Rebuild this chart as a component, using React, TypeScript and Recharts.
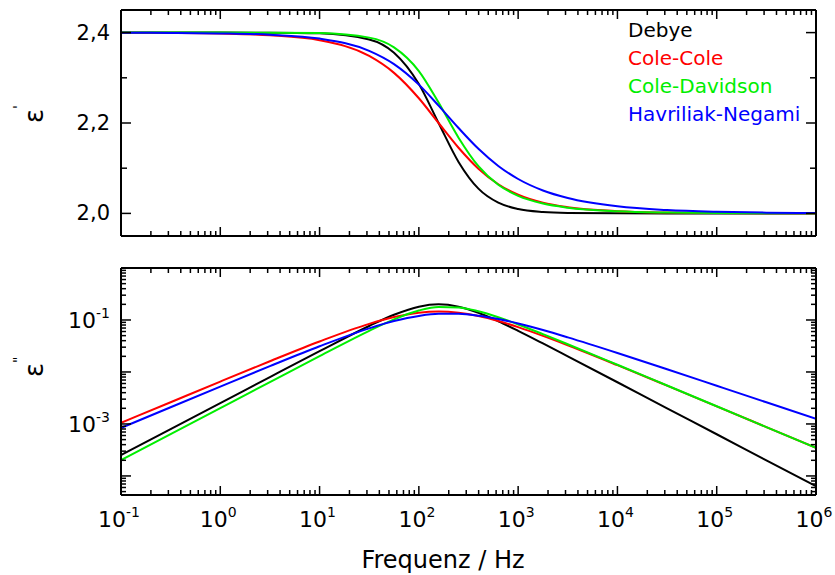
import React from "react";
import { LineChart, Line, XAxis, YAxis } from "recharts";

// frequency grid (Hz)
const FREQ = [0.1, 0.316, 1, 3.16, 10, 31.6, 56.2, 100, 158, 251, 398, 631, 1000, 1778, 3162, 10000, 31623, 100000, 316228, 1000000];

const DEBYE_E1 = [2.4, 2.4, 2.4, 2.3998, 2.3984, 2.3847, 2.3553, 2.2861, 2.2, 2.1139, 2.0547, 2.0237, 2.0098, 2.0032, 2.001, 2.0001, 2.0, 2.0, 2.0, 2.0];
const DEBYE_E2 = [2.52e-4, 7.98e-4, 2.52e-3, 7.98e-3, 0.0251, 0.0767, 0.1261, 0.1805, 0.2, 0.1805, 0.1375, 0.0945, 0.0619, 0.0354, 0.02, 0.00634, 0.002, 6.34e-4, 2.0e-4, 6.34e-5];

const CC_E1 = [2.3997, 2.3991, 2.3978, 2.394, 2.383, 2.3483, 2.3109, 2.2547, 2.2, 2.1453, 2.0989, 2.0645, 2.0413, 2.0236, 2.0137, 2.0049, 2.0018, 2.0007, 2.0003, 2.0001];
const CC_E2 = [1.05e-3, 2.62e-3, 6.54e-3, 0.0161, 0.0386, 0.0841, 0.1137, 0.1381, 0.1453, 0.1381, 0.1194, 0.0959, 0.073, 0.0495, 0.0326, 0.0135, 0.00545, 0.00218, 8.7e-4, 3.47e-4];

const CD_E1 = [2.4, 2.4, 2.4, 2.3999, 2.3989, 2.3889, 2.3674, 2.3149, 2.2453, 2.1675, 2.1044, 2.0633, 2.0387, 2.0217, 2.0126, 2.0047, 2.0018, 2.0007, 2.0003, 2.0001];
const CD_E2 = [2.02e-4, 6.38e-4, 2.02e-3, 6.38e-3, 0.0201, 0.0618, 0.1027, 0.1523, 0.1782, 0.1747, 0.1472, 0.1127, 0.0821, 0.0534, 0.0342, 0.01375, 0.00549, 0.00219, 8.72e-4, 3.47e-4];

const HN_E1 = [2.3997, 2.3993, 2.3982, 2.3953, 2.3867, 2.3597, 2.3303, 2.2849, 2.2385, 2.1889, 2.1429, 2.105, 2.0761, 2.0507, 2.034, 2.0156, 2.0073, 2.0035, 2.0017, 2.0008];
const HN_E2 = [8.37e-4, 2.1e-3, 5.24e-3, 0.01295, 0.0312, 0.069, 0.0953, 0.1196, 0.1311, 0.1314, 0.1212, 0.1044, 0.0857, 0.064, 0.0463, 0.0232, 0.01128, 0.00543, 0.00261, 0.00125];

const SERIES = [
  { key: "debye", name: "Debye", color: "#000000", e1: DEBYE_E1, e2: DEBYE_E2 },
  { key: "cc", name: "Cole-Cole", color: "#ff0000", e1: CC_E1, e2: CC_E2 },
  { key: "cd", name: "Cole-Davidson", color: "#00ee00", e1: CD_E1, e2: CD_E2 },
  { key: "hn", name: "Havriliak-Negami", color: "#0000ff", e1: HN_E1, e2: HN_E2 },
];

// tick labels
const X_DECADES = [0.1, 1, 10, 100, 1000, 10000, 100000, 1000000];
const Y1_TICKS = [2.0, 2.1, 2.2, 2.3, 2.4];
const Y1_LABELS = ["2,0", "", "2,2", "", "2,4"];
const Y2_DECADES = [1e-5, 1e-4, 1e-3, 1e-2, 1e-1, 1];
const Y2_LABELED = [1e-3, 1e-1];

const X_DOMAIN = [0.1, 1000000];
const Y1_DOMAIN = [1.95, 2.45];
const Y2_DOMAIN = [4.3e-5, 1];

const FONT = "'DejaVu Sans', sans-serif";
const MAJOR = 9;
const MINOR = 5;

const rows = FREQ.map((f, i) => {
  const r: Record<string, number> = { f };
  SERIES.forEach((s) => {
    r[s.key + "1"] = s.e1[i];
    r[s.key + "2"] = s.e2[i];
  });
  return r;
});

const withMinors = (decades: number[], lo: number, hi: number) => {
  const out: number[] = [];
  decades.forEach((d) => {
    for (let k = 1; k <= 9; k++) {
      const v = +(d * k).toPrecision(3);
      if (v >= lo && v <= hi) out.push(v);
    }
  });
  return out;
};

const X_TICKS = withMinors(X_DECADES, X_DOMAIN[0], X_DOMAIN[1]);
const Y2_TICKS = withMinors(Y2_DECADES, Y2_DOMAIN[0], Y2_DOMAIN[1]);

const isDecade = (v: number) => Math.abs(Math.log10(v) - Math.round(Math.log10(v))) < 1e-6;

const Pow = ({ x, y, exp, anchor }: { x: number; y: number; exp: number; anchor: string }) => (
  <text x={x} y={y} textAnchor={anchor} fontFamily={FONT} fontSize={22} fill="#000">
    10<tspan dy={-10} fontSize={14}>{String(exp)}</tspan>
  </text>
);

const xTick = (side: "top" | "bottom", labels: boolean) => (p: any) => {
  const v = p.payload.value;
  const major = isDecade(v);
  const len = major ? MAJOR : MINOR;
  const dir = side === "bottom" ? -1 : 1;
  return (
    <g>
      <line x1={p.x} x2={p.x} y1={p.y} y2={p.y + dir * len} stroke="#000" strokeWidth={1.5} />
      {labels && major && <Pow x={p.x - 2} y={p.y + 32} exp={Math.round(Math.log10(v))} anchor="middle" />}
    </g>
  );
};

const linTick = (side: "left" | "right") => (p: any) => {
  const v = p.payload.value;
  const idx = Y1_TICKS.findIndex((t) => Math.abs(t - v) < 1e-9);
  const label = idx >= 0 ? Y1_LABELS[idx] : "";
  const len = label ? MAJOR + 1 : MINOR + 1;
  const dir = side === "left" ? 1 : -1;
  return (
    <g>
      <line x1={p.x} x2={p.x + dir * len} y1={p.y} y2={p.y} stroke="#000" strokeWidth={1.5} />
      {side === "left" && label && (
        <text x={p.x - 11} y={p.y + 7} textAnchor="end" fontFamily={FONT} fontSize={21} fill="#000">
          {label}
        </text>
      )}
    </g>
  );
};

const logTick = (side: "left" | "right") => (p: any) => {
  const v = p.payload.value;
  const major = isDecade(v);
  const len = major ? MAJOR + 1 : MINOR;
  const dir = side === "left" ? 1 : -1;
  const labeled = Y2_LABELED.some((t) => Math.abs(t - v) < t * 1e-6);
  return (
    <g>
      <line x1={p.x} x2={p.x + dir * len} y1={p.y} y2={p.y} stroke="#000" strokeWidth={1.5} />
      {side === "left" && labeled && <Pow x={p.x - 11} y={p.y + 8} exp={Math.round(Math.log10(v))} anchor="end" />}
    </g>
  );
};

const frame = { stroke: "#000", strokeWidth: 2 };

function xAxes(labels: boolean) {
  return [
    <XAxis
      key="xb"
      xAxisId="b"
      dataKey="f"
      type="number"
      scale="log"
      domain={X_DOMAIN}
      allowDataOverflow
      ticks={X_TICKS}
      interval={0}
      orientation="bottom"
      height={1}
      tickSize={0}
      tickMargin={0}
      tickLine={false}
      axisLine={frame}
      tick={xTick("bottom", labels)}
    />,
    <XAxis
      key="xt"
      xAxisId="t"
      dataKey="f"
      type="number"
      scale="log"
      domain={X_DOMAIN}
      allowDataOverflow
      ticks={X_TICKS}
      interval={0}
      orientation="top"
      height={1}
      tickSize={0}
      tickMargin={0}
      tickLine={false}
      axisLine={frame}
      tick={xTick("top", false)}
    />,
  ];
}

export default function App() {
  return (
    <div style={{ position: "absolute", left: 0, top: 0, width: 835, height: 575, background: "#fff" }}>
      <div style={{ position: "absolute", left: 0, top: 0 }}>
        <LineChart width={835} height={250} data={rows} margin={{ top: 9, right: 18, bottom: 13, left: 120 }}>
          {xAxes(false)}
          {["l", "r"].map((id) => (
            <YAxis
              key={id}
              yAxisId={id}
              type="number"
              domain={Y1_DOMAIN}
              allowDataOverflow
              ticks={Y1_TICKS}
              interval={0}
              orientation={id === "l" ? "left" : "right"}
              width={1}
              tickSize={0}
              tickMargin={0}
              tickLine={false}
              axisLine={frame}
              tick={linTick(id === "l" ? "left" : "right")}
            />
          ))}
          {SERIES.map((s) => (
            <Line
              key={s.key}
              xAxisId="b"
              yAxisId="l"
              type="monotone"
              dataKey={s.key + "1"}
              stroke={s.color}
              strokeWidth={2}
              dot={false}
              isAnimationActive={false}
            />
          ))}
        </LineChart>
      </div>
      <div style={{ position: "absolute", left: 0, top: 250 }}>
        <LineChart width={835} height={325} data={rows} margin={{ top: 17, right: 18, bottom: 79, left: 120 }}>
          {xAxes(true)}
          {["l", "r"].map((id) => (
            <YAxis
              key={id}
              yAxisId={id}
              type="number"
              scale="log"
              domain={Y2_DOMAIN}
              allowDataOverflow
              ticks={Y2_TICKS}
              interval={0}
              orientation={id === "l" ? "left" : "right"}
              width={1}
              tickSize={0}
              tickMargin={0}
              tickLine={false}
              axisLine={frame}
              tick={logTick(id === "l" ? "left" : "right")}
            />
          ))}
          {SERIES.map((s) => (
            <Line
              key={s.key}
              xAxisId="b"
              yAxisId="l"
              type="monotone"
              dataKey={s.key + "2"}
              stroke={s.color}
              strokeWidth={2}
              dot={false}
              isAnimationActive={false}
            />
          ))}
        </LineChart>
      </div>
      {/* axis titles and legend */}
      <svg width={835} height={575} style={{ position: "absolute", left: 0, top: 0, pointerEvents: "none" }}>
        <text transform="translate(43,123) rotate(-90)" fontFamily={FONT} fontSize={26} fill="#000">
          ε<tspan dy={-20} fontSize={14}>'</tspan>
        </text>
        <text transform="translate(43,377) rotate(-90)" fontFamily={FONT} fontSize={26} fill="#000">
          ε<tspan dy={-20} fontSize={14}>"</tspan>
        </text>
        <text x={443} y={568} textAnchor="middle" fontFamily={FONT} fontSize={24} fill="#000">
          Frequenz / Hz
        </text>
        {SERIES.map((s, i) => (
          <text key={s.key} x={628} y={37 + i * 28} fontFamily={FONT} fontSize={20} fill={s.color}>
            {s.name}
          </text>
        ))}
      </svg>
    </div>
  );
}
